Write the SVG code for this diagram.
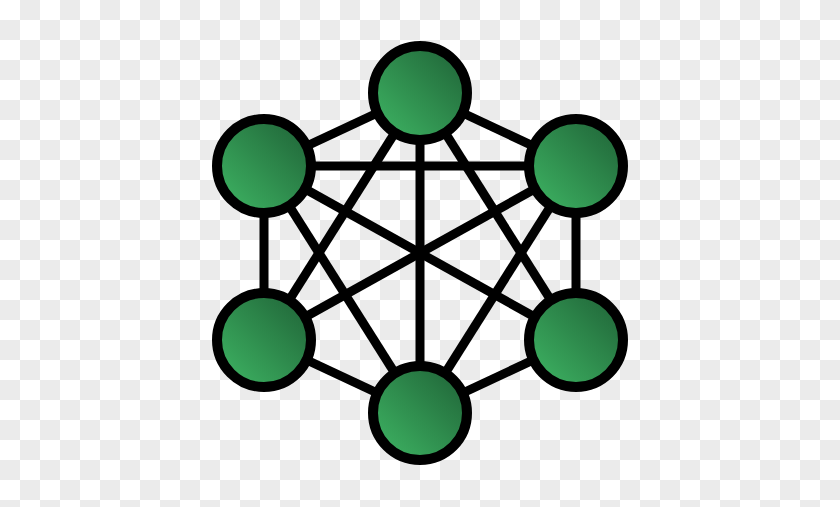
<svg xmlns="http://www.w3.org/2000/svg" width="840" height="507" viewBox="0 0 840 507">
  <defs>
    <pattern id="checker" x="0" y="0" width="40" height="40" patternUnits="userSpaceOnUse">
      <rect width="40" height="40" fill="#ffffff"/>
      <rect x="20" y="0" width="20" height="20" fill="#ebebeb"/>
      <rect x="0" y="20" width="20" height="20" fill="#ebebeb"/>
    </pattern>
    <linearGradient id="g" x1="0" y1="1" x2="1" y2="0">
      <stop offset="0" stop-color="#3fb865"/>
      <stop offset="1" stop-color="#1e5f35"/>
    </linearGradient>
    <style>
      .edge { stroke: #000; stroke-width: 9; stroke-linecap: butt; fill: none; }
      .node circle { fill: url(#g); stroke: #000; stroke-width: 10; }
    </style>
  </defs>
  <rect width="840" height="507" fill="url(#checker)"/>
  <g id="connectors">
    <line class="edge" x1="420" y1="93" x2="264" y2="166"/>
    <line class="edge" x1="420" y1="93" x2="576" y2="166"/>
    <line class="edge" x1="264" y1="166" x2="576" y2="166"/>
    <line class="edge" x1="264" y1="166" x2="264" y2="340"/>
    <line class="edge" x1="576" y1="166" x2="576" y2="340"/>
    <line class="edge" x1="264" y1="340" x2="420" y2="413"/>
    <line class="edge" x1="576" y1="340" x2="420" y2="413"/>
    <line class="edge" x1="420" y1="93" x2="420" y2="413"/>
    <line class="edge" x1="420" y1="93" x2="264" y2="340"/>
    <line class="edge" x1="420" y1="93" x2="576" y2="340"/>
    <line class="edge" x1="264" y1="166" x2="576" y2="340"/>
    <line class="edge" x1="576" y1="166" x2="264" y2="340"/>
    <line class="edge" x1="264" y1="166" x2="420" y2="413"/>
    <line class="edge" x1="576" y1="166" x2="420" y2="413"/>
  </g>
  <g id="node-top" class="node"><circle cx="420" cy="93" r="47"/></g>
  <g id="node-top-left" class="node"><circle cx="264" cy="166" r="47"/></g>
  <g id="node-top-right" class="node"><circle cx="576" cy="166" r="47"/></g>
  <g id="node-bottom-left" class="node"><circle cx="264" cy="340" r="47"/></g>
  <g id="node-bottom-right" class="node"><circle cx="576" cy="340" r="47"/></g>
  <g id="node-bottom" class="node"><circle cx="420" cy="413" r="47"/></g>
</svg>
